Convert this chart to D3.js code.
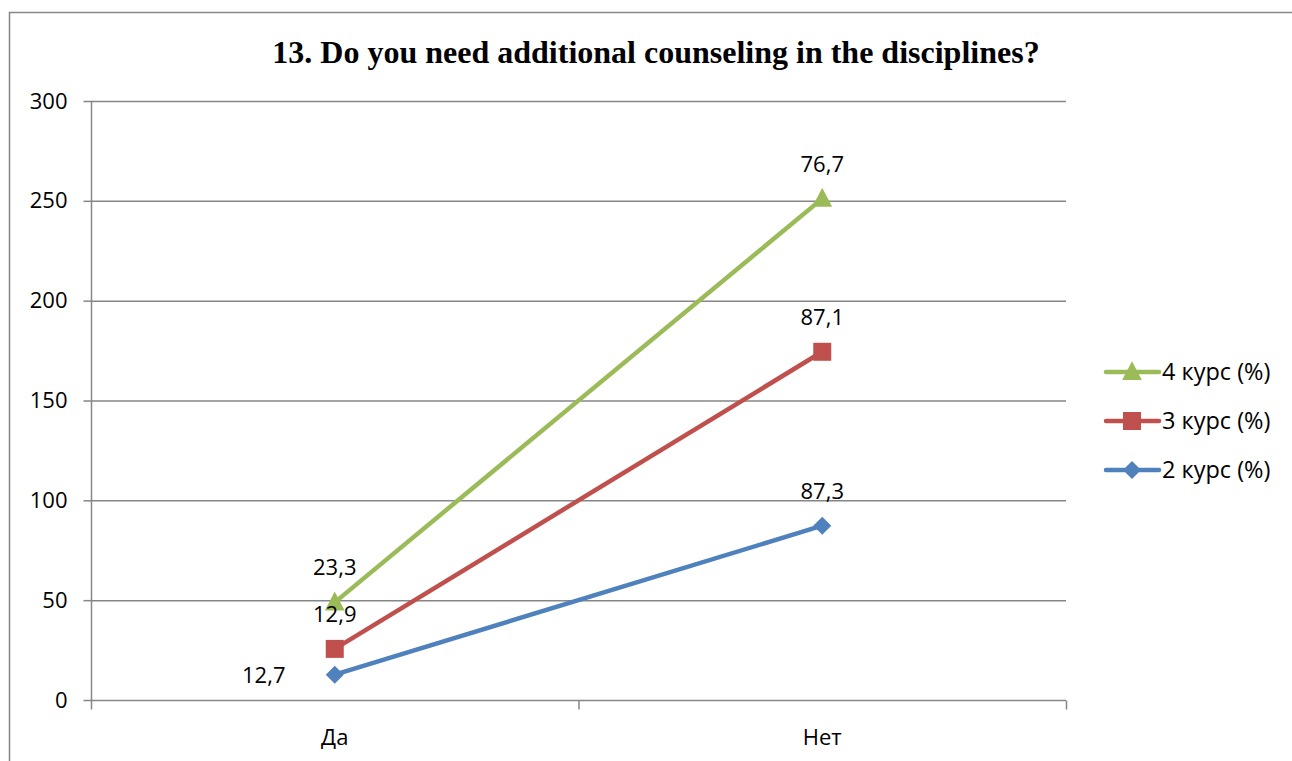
<!DOCTYPE html>
<html><head><meta charset="utf-8">
<script src="https://cdn.jsdelivr.net/npm/d3@7"></script>
<style>body{margin:0;background:#fff}svg{display:block}</style>
</head><body>
<svg id="c" width="1292" height="761"></svg>
<script>
const categories = ["Да", "Нет"];
const seriesNames = ["2 курс (%)", "3 курс (%)", "4 курс (%)"];
const values2 = [12.7, 87.3];
const values3 = [12.9, 87.1];
const values4 = [23.3, 76.7];
const yTicks = [0, 50, 100, 150, 200, 250, 300];
const colors = ["#4F81BD", "#C0504D", "#9BBB59"];
const title = "13. Do you need additional counseling in the disciplines?";

const svg = d3.select("#c");
const font = "'Open Sans', 'Noto Sans', sans-serif";
const fs = 22;
// outer border
svg.append("path").attr("d", "M9.5,761 V12.5 H1292").attr("fill", "none").attr("stroke", "#868686").attr("stroke-width", 1.5);

const x0 = 91, x1 = 1066, yTop = 101, yBot = 700;
const x = d3.scaleBand().domain(categories).range([x0, x1]);
const y = d3.scaleLinear().domain([0, 300]).range([yBot, yTop]);

svg.append("text").attr("x", 656).attr("y", 63).attr("text-anchor", "middle")
  .attr("font-family", "'Liberation Serif', 'Times New Roman', serif").attr("font-weight", "bold")
  .attr("font-size", 32).text(title);

// gridlines
svg.append("g").selectAll("line").data(yTicks.filter(t => t > 0)).join("line")
  .attr("x1", x0).attr("x2", x1).attr("y1", d => y(d) + 0.5).attr("y2", d => y(d) + 0.5)
  .attr("stroke", "#868686").attr("stroke-width", 1.5);

// y axis
const ya = svg.append("g").attr("transform", `translate(${x0 + 0.5},0)`)
  .call(d3.axisLeft(y).tickValues(yTicks).tickSize(8).tickPadding(16).tickFormat(d3.format("d")));
ya.select(".domain").attr("stroke", "#868686").attr("stroke-width", 1.5).attr("d", `M0,${yTop}V${yBot}`);
ya.selectAll(".tick line").attr("stroke", "#868686").attr("stroke-width", 1.5);
ya.selectAll("text").attr("font-family", font).attr("font-size", fs).attr("fill", "#000");

// x axis
const xa = svg.append("g").attr("transform", `translate(0,${yBot + 0.5})`);
xa.append("line").attr("x1", x0).attr("x2", x1).attr("stroke", "#868686").attr("stroke-width", 1.5);
const bounds = [x0, x0 + x.bandwidth(), x1];
xa.selectAll(".tk").data(bounds).join("line").attr("class", "tk")
  .attr("x1", d => d + 0.5).attr("x2", d => d + 0.5).attr("y1", 0).attr("y2", 9)
  .attr("stroke", "#868686").attr("stroke-width", 1.5);
xa.selectAll("text").data(categories).join("text")
  .attr("x", d => x(d) + x.bandwidth() / 2).attr("y", 44).attr("text-anchor", "middle")
  .attr("font-family", font).attr("font-size", fs).text(d => d);

// stacked
const raw = [values2, values3, values4];
const cum = raw.map((s, i) => s.map((v, j) => d3.sum(raw.slice(0, i + 1), r => r[j])));
const cx = c => x(c) + x.bandwidth() / 2;
const line = d3.line().x((d, j) => cx(categories[j])).y(d => y(d));

function marker(g, i, px, py, scale) {
  const s = scale || 1;
  if (i === 2) {
    const h = 18 * s;
    g.append("path").attr("d", `M${px},${py - h * 0.6}L${px + h * 0.55},${py + h * 0.45}L${px - h * 0.55},${py + h * 0.45}Z`).attr("fill", colors[i]);
  } else if (i === 1) {
    const h = 18 * s;
    g.append("rect").attr("x", px - h / 2).attr("y", py - h / 2).attr("width", h).attr("height", h).attr("fill", colors[i]);
  } else {
    const h = 9 * s;
    g.append("path").attr("d", `M${px},${py - h}L${px + h},${py}L${px},${py + h}L${px - h},${py}Z`).attr("fill", colors[i]);
  }
}

const plot = svg.append("g");
[2, 1, 0].forEach(i => {
  plot.append("path").datum(cum[i]).attr("d", line).attr("fill", "none")
    .attr("stroke", colors[i]).attr("stroke-width", 4.5).attr("stroke-linejoin", "round");
});
[2, 1, 0].forEach(i => {
  cum[i].forEach((v, j) => marker(plot, i, cx(categories[j]), y(v)));
});

// labels
const fmt = v => d3.format(".1f")(v).replace(".", ",");
const lab = svg.append("g").attr("font-family", font).attr("font-size", fs);
raw.forEach((s, i) => {
  s.forEach((v, j) => {
    let lx = cx(categories[j]), ly = y(cum[i][j]) - 27, anchor = "middle";
    if (i === 0 && j === 0) { lx = cx(categories[j]) - 71; ly = y(cum[i][j]) + 8; }
    lab.append("text").attr("x", lx).attr("y", ly).attr("text-anchor", anchor).text(fmt(v));
  });
});

// legend
const leg = svg.append("g");
[2, 1, 0].forEach((i, k) => {
  const ly = 372 + k * 49;
  leg.append("line").attr("x1", 1106).attr("x2", 1159).attr("y1", ly).attr("y2", ly)
    .attr("stroke", colors[i]).attr("stroke-width", 4.5).attr("stroke-linecap", "round");
  marker(leg, i, 1132, ly, 1);
  leg.append("text").attr("x", 1162).attr("y", ly + 8).attr("font-family", font).attr("font-size", 23.5).text(seriesNames[i]);
});
</script>
</body></html>
